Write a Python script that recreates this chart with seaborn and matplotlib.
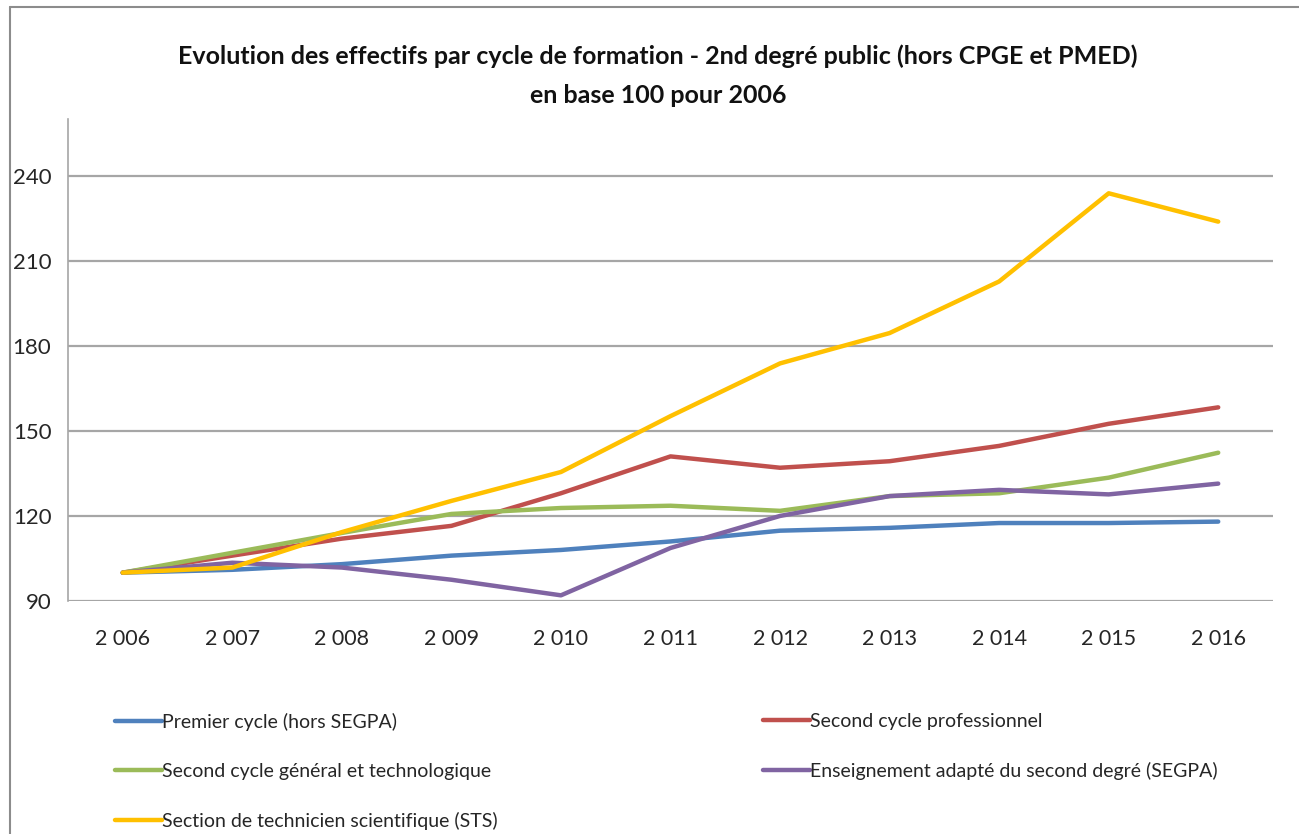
import matplotlib
matplotlib.use("Agg")
import matplotlib.pyplot as plt
import seaborn as sns
import pandas as pd
from matplotlib.lines import Line2D

years = ["2006", "2007", "2008", "2009", "2010", "2011", "2012", "2013", "2014", "2015", "2016"]
year_labels = ["2 006", "2 007", "2 008", "2 009", "2 010", "2 011", "2 012", "2 013", "2 014", "2 015", "2 016"]

premier_cycle = [100, 101, 103, 106, 108, 111, 114.8, 115.8, 117.5, 117.5, 118]
second_pro = [100, 106, 112, 116.5, 128, 141, 137, 139.3, 144.7, 152.5, 158.3]
second_gt = [100, 107, 114, 120.7, 122.8, 123.6, 121.8, 127, 128, 133.5, 142.3]
segpa = [100, 103.5, 101.8, 97.5, 92, 108.7, 120, 127, 129.2, 127.6, 131.4]
sts = [100, 101.8, 114.3, 125.3, 135.5, 155.2, 173.8, 184.5, 202.7, 233.8, 223.8]

series_names = [
    "Premier cycle (hors SEGPA)",
    "Second cycle professionnel",
    "Second cycle général et technologique",
    "Enseignement adapté du second degré (SEGPA)",
    "Section de technicien scientifique (STS)",
]
series_values = [premier_cycle, second_pro, second_gt, segpa, sts]
colors = ["#4F81BD", "#C0504D", "#9BBB59", "#8064A2", "#FFC000"]

y_ticks = [90, 120, 150, 180, 210, 240]

title_text = "Evolution des effectifs par cycle de formation - 2nd degré public (hors CPGE et PMED)\nen base 100 pour 2006"

rows = []
for name, vals in zip(series_names, series_values):
    for i, (yr, v) in enumerate(zip(years, vals)):
        rows.append({"idx": i, "year": yr, "value": v, "serie": name})
df = pd.DataFrame(rows)

sns.set_theme(style="white")
fonts = ["Lato", "DejaVu Sans"]
plt.rcParams["font.family"] = fonts

fig = plt.figure(figsize=(12.99, 8.34), dpi=100)
ax = fig.add_axes([68 / 1299, 1 - 601 / 834, (1273 - 68) / 1299, (601 - 119) / 834])

sns.lineplot(data=df, x="idx", y="value", hue="serie", hue_order=series_names,
             palette=colors, linewidth=3.2, ax=ax, legend=False, sort=False)

ax.set_xlim(-0.5, 10.5)
ax.set_ylim(90, 260)
ax.set_yticks(y_ticks)
ax.set_yticklabels([str(t) for t in y_ticks], fontsize=16, color="#262626")
ax.set_xticks(range(len(years)))
ax.set_xticklabels(year_labels, fontsize=15.5, color="#262626")
ax.tick_params(axis="both", length=0)
ax.tick_params(axis="y", pad=12)
ax.tick_params(axis="x", pad=20)
ax.set_xlabel("")
ax.set_ylabel("")
ax.grid(axis="y", color="#A6A6A6", linewidth=1.6)
ax.grid(axis="x", visible=False)
ax.set_axisbelow(True)
for s in ["top", "right", "bottom"]:
    ax.spines[s].set_visible(False)
ax.spines["left"].set_color("#A6A6A6")
ax.spines["left"].set_linewidth(1.2)

fig.text(658 / 1299, 1 - 76 / 834, title_text, ha="center", va="center",
         fontsize=18, fontweight="bold", linespacing=1.85, color="#111111")

# Legend: two columns placed like the reference
col1 = [0, 2, 4]
col2 = [1, 3]
for idxs, xpos in [(col1, 109), (col2, 757)]:
    handles = [Line2D([0], [0], color=colors[i], linewidth=3.2) for i in idxs]
    labels = [series_names[i] for i in idxs]
    fig.legend(handles, labels, loc="upper left",
               bbox_to_anchor=(xpos / 1299, 1 - 707 / 834),
               ncol=1, frameon=False, fontsize=14, handlelength=2.4,
               handletextpad=0.05, labelspacing=1.65, labelcolor="#262626",
               borderaxespad=0, borderpad=0.3)

# Outer chart border (top and left visible)
fig.add_artist(Line2D([10 / 1299, 1.0], [1 - 7 / 834, 1 - 7 / 834], transform=fig.transFigure,
                      color="#8C8C8C", linewidth=1.5))
fig.add_artist(Line2D([10 / 1299, 10 / 1299], [0.0, 1 - 7 / 834], transform=fig.transFigure,
                      color="#8C8C8C", linewidth=1.5))

fig.savefig("out.png", dpi=100, facecolor="white")
